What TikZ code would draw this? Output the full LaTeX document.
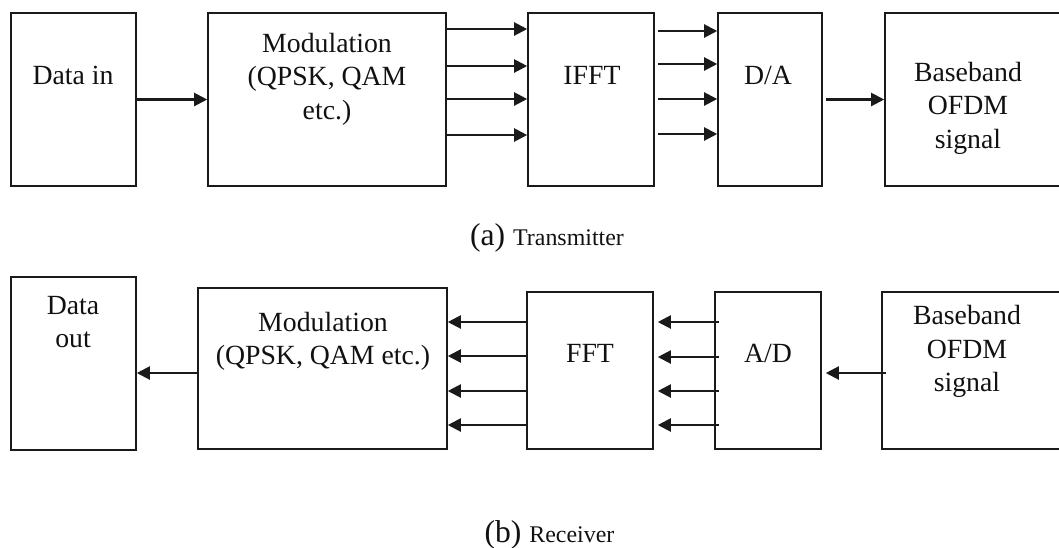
\documentclass[tikz,border=0pt]{standalone}
\usepackage{xcolor}
\usepackage{fontspec}
\setmainfont{Liberation Serif}
\usetikzlibrary{arrows.meta}
\definecolor{edgeblack}{HTML}{1A1A1A}
\definecolor{textblack}{HTML}{111111}

\begin{document}
\begin{tikzpicture}[>={Triangle[length=0.13cm,width=0.13cm]},
  blk/.style={draw=edgeblack, line width=0.45pt, inner sep=0pt},
  sig/.style={edgeblack, line width=0.6pt, ->},
  txt/.style={textblack, font=\fontsize{7.9}{9.5}\selectfont, align=center, inner sep=0pt}]
  \useasboundingbox (0,0) rectangle (10.59,5.47);

  % transmitter
  \node[blk, minimum width=1.25cm, minimum height=1.73cm] (din) at (0.735,4.475) {};
  \node[blk, minimum width=2.38cm, minimum height=1.73cm] (modtx) at (3.27,4.475) {};
  \node[blk, minimum width=1.26cm, minimum height=1.73cm] (ifft) at (5.91,4.475) {};
  \node[blk, minimum width=1.04cm, minimum height=1.73cm] (da) at (7.70,4.475) {};
  \node[blk, minimum width=1.85cm, minimum height=1.73cm] (bbtx) at (9.775,4.475) {};

  \node[txt] (dintxt) at (0.73,4.72) {Data in};
  \node[txt] (modtxtxt) at (3.27,4.68) {Modulation\\(QPSK, QAM\\etc.)};
  \node[txt] (iffttxt) at (5.92,4.72) {IFFT};
  \node[txt] (datxt) at (7.68,4.72) {D/A};
  \node[txt] (bbtxtxt) at (9.68,4.39) {Baseband\\OFDM\\signal};

  \draw[sig] (din) -- (modtx);
  \draw[sig] (modtx.east |- 0,5.18) -- (ifft.west |- 0,5.18);
  \draw[sig] (modtx.east |- 0,4.81) -- (ifft.west |- 0,4.81);
  \draw[sig] (modtx.east |- 0,4.48) -- (ifft.west |- 0,4.48);
  \draw[sig] (modtx.east |- 0,4.12) -- (ifft.west |- 0,4.12);
  \draw[sig, shorten <=0.03cm] (ifft.east |- 0,5.16) -- (da.west |- 0,5.16);
  \draw[sig, shorten <=0.03cm] (ifft.east |- 0,4.83) -- (da.west |- 0,4.83);
  \draw[sig, shorten <=0.03cm] (ifft.east |- 0,4.48) -- (da.west |- 0,4.48);
  \draw[sig, shorten <=0.03cm] (ifft.east |- 0,4.13) -- (da.west |- 0,4.13);
  \draw[sig, shorten <=0.03cm] (da) -- (bbtx.west |- da);

  \node[textblack, inner sep=0pt] (captx) at (5.47,3.09)
    {\fontsize{9}{10}\selectfont(a) \fontsize{6.8}{8}\selectfont Transmitter};

  % receiver
  \node[blk, minimum width=1.25cm, minimum height=1.73cm] (dout) at (0.735,1.835) {};
  \node[blk, minimum width=2.49cm, minimum height=1.61cm] (modrx) at (3.225,1.785) {};
  \node[blk, minimum width=1.26cm, minimum height=1.57cm] (fft) at (5.90,1.765) {};
  \node[blk, minimum width=1.06cm, minimum height=1.57cm] (ad) at (7.68,1.765) {};
  \node[blk, minimum width=1.85cm, minimum height=1.57cm] (bbrx) at (9.745,1.765) {};

  \node[txt] (douttxt) at (0.73,2.25) {Data\\out};
  \node[txt] (modrxtxt) at (3.23,2.055) {Modulation\\(QPSK, QAM etc.)};
  \node[txt] (ffttxt) at (5.90,1.94) {FFT};
  \node[txt] (adtxt) at (7.68,1.94) {A/D};
  \node[txt] (bbrxtxt) at (9.67,1.955) {Baseband\\OFDM\\signal};

  \draw[sig, shorten <=-0.05cm, shorten >=0.04cm] (ad.west |- 0,2.25) -- (fft.east |- 0,2.25);
  \draw[sig, shorten <=-0.05cm, shorten >=0.04cm] (ad.west |- 0,1.90) -- (fft.east |- 0,1.90);
  \draw[sig, shorten <=-0.05cm, shorten >=0.04cm] (ad.west |- 0,1.56) -- (fft.east |- 0,1.56);
  \draw[sig, shorten <=-0.05cm, shorten >=0.04cm] (ad.west |- 0,1.22) -- (fft.east |- 0,1.22);
  \draw[sig] (fft.west |- 0,2.25) -- (modrx.east |- 0,2.25);
  \draw[sig] (fft.west |- 0,1.91) -- (modrx.east |- 0,1.91);
  \draw[sig] (fft.west |- 0,1.56) -- (modrx.east |- 0,1.56);
  \draw[sig] (fft.west |- 0,1.22) -- (modrx.east |- 0,1.22);
  \draw[sig] (modrx.west |- 0,1.74) -- (dout.east |- 0,1.74);
  \draw[sig, shorten <=-0.05cm, shorten >=0.04cm] (bbrx.west |- 0,1.74) -- (ad.east |- 0,1.74);

  \node[textblack, inner sep=0pt] (caprx) at (5.495,0.12)
    {\fontsize{9}{10}\selectfont(b) \fontsize{6.8}{8}\selectfont Receiver};
\end{tikzpicture}
\end{document}
